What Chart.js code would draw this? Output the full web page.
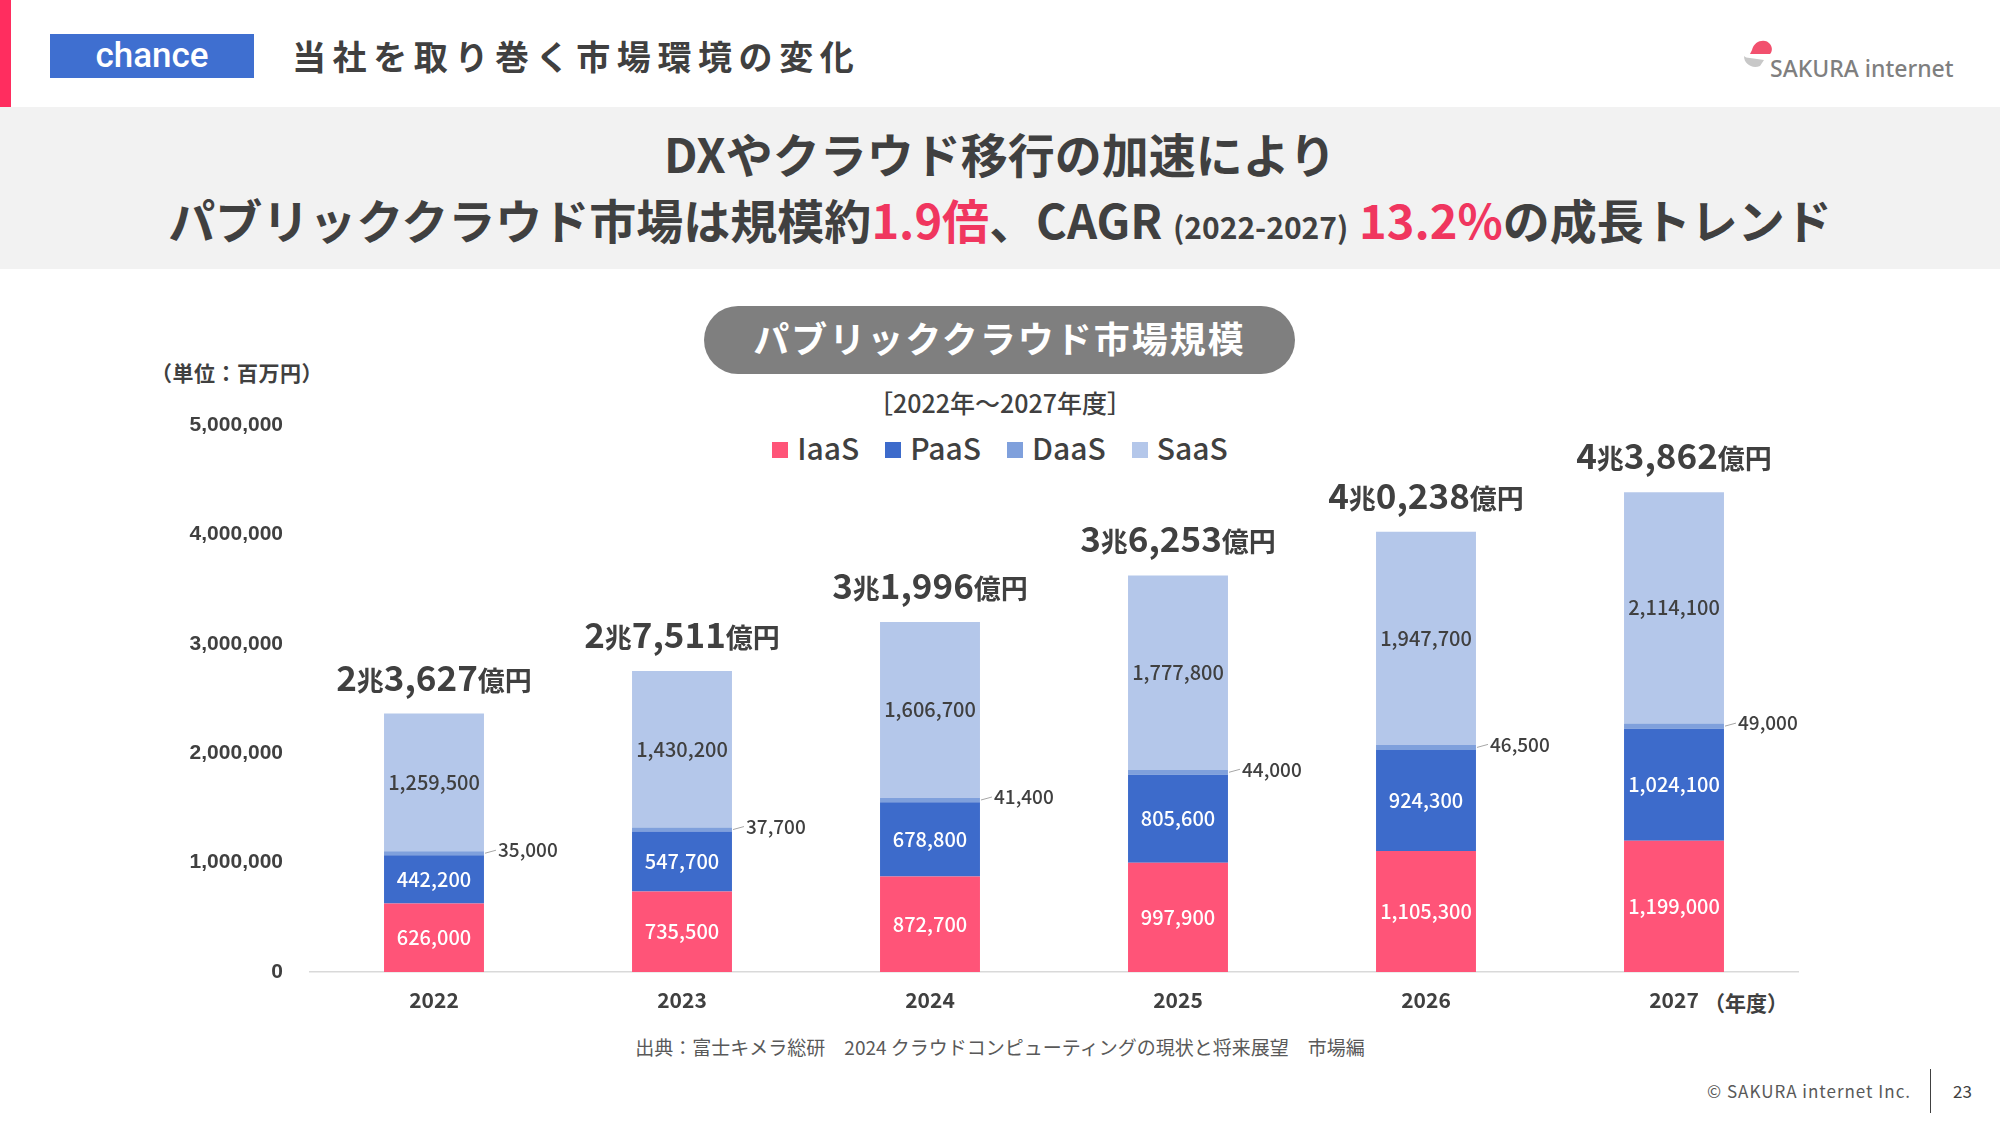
<!DOCTYPE html>
<html><head><meta charset="utf-8">
<script src="https://cdn.jsdelivr.net/npm/chart.js@4.4.0/dist/chart.umd.min.js"></script>
<style>
html,body{margin:0;padding:0;width:2000px;height:1126px;overflow:hidden;background:#fff;font-family:"Noto Sans CJK JP","Noto Sans",sans-serif;color:#404040}
.abs{position:absolute;white-space:nowrap}
#redbar{left:0;top:0;width:11px;height:107px;background:#ff2d5f}
#chance{left:50px;top:34px;width:204px;height:44px;background:#3f6fd0;color:#fff;font:500 35px Roboto,sans-serif;text-align:center;line-height:44px}
#sectitle{left:292px;top:29px;font-size:34px;font-weight:700;letter-spacing:6.6px;line-height:54px}
#band{left:0;top:107px;width:2000px;height:162px;background:#f2f2f2}
.hl{left:0;width:2000px;text-align:center;font-weight:700;font-size:47px;line-height:60px}
.red{color:#f0365f}
.small{font-size:30px}
#pill{left:704px;top:306px;width:591px;height:68px;border-radius:34px;background:#7f7f7f;color:#fff;text-align:center;line-height:62px;font-size:36px;font-weight:700;letter-spacing:2px}
#period{left:0;width:2000px;top:387px;text-align:center;font-size:25px;font-weight:500;line-height:30px}
#legend{left:0;width:2000px;top:426px;text-align:center;font-size:30px;font-weight:500;line-height:42px}
#legend span.item{display:inline-block;margin:0 13px}
#legend span.sw{display:inline-block;width:16px;height:16px;margin-right:9px;vertical-align:middle;position:relative;top:-2px}
#unit{left:151px;top:359px;font-size:21px;font-weight:700;line-height:26px;letter-spacing:0.5px}
#nendo{left:1704px;top:988px;font-size:21px;font-weight:700;line-height:28px}
#source{left:0;width:2000px;top:1035px;text-align:center;font-size:19px;color:#595959;line-height:24px}
#copy{left:1707px;top:1079px;font-size:17px;color:#595959;letter-spacing:1px;line-height:24px}
#vline{left:1930px;top:1069px;width:1px;height:44px;background:#404040}
#page{left:1953px;top:1079px;font-size:17px;color:#404040;line-height:24px}
#logotext{left:1770px;top:52px;font:500 23px "Noto Sans",sans-serif;color:#7f7f7f;line-height:32px}
#logo{left:1742px;top:36px}
canvas{position:absolute;left:0;top:0}
</style></head>
<body>
<div id="band" class="abs"></div>
<div id="redbar" class="abs"></div>
<div id="chance" class="abs">chance</div>
<div id="sectitle" class="abs">当社を取り巻く市場環境の変化</div>
<svg id="logo" class="abs" width="40" height="40" viewBox="0 0 40 40">
  <path d="M10 14 C12 4 24 2 28 8 C31 12 30 16 28 18 L8 18 Z" fill="#f2506e"/>
  <path d="M2 20 C2 28 10 33 18 30 L22 24 L8 22 C5 22 3 21 2 20 Z" fill="#c8c8c8"/>
</svg>
<div id="logotext" class="abs">SAKURA internet</div>
<div class="abs hl" style="top:123px">DXやクラウド移行の加速により</div>
<div class="abs hl" style="top:189px">パブリッククラウド市場は規模約<span class="red">1.9倍</span>、CAGR <span class="small">(2022-2027)</span> <span class="red">13.2%</span>の成長トレンド</div>
<div id="pill" class="abs">パブリッククラウド市場規模</div>
<div id="period" class="abs">［2022年～2027年度］</div>
<div id="legend" class="abs"></div>
<div id="unit" class="abs">（単位：百万円）</div>
<div id="nendo" class="abs">（年度）</div>
<div id="source" class="abs">出典：富士キメラ総研　2024 クラウドコンピューティングの現状と将来展望　市場編</div>
<div id="copy" class="abs">© SAKURA internet Inc.</div>
<div id="vline" class="abs"></div>
<div id="page" class="abs">23</div>
<canvas id="c" width="2000" height="1126"></canvas>
<script>
const categories = ['2022','2023','2024','2025','2026','2027'];
const seriesNames = ['IaaS','PaaS','DaaS','SaaS'];
const iaas = [626000, 735500, 872700, 997900, 1105300, 1199000];
const paas = [442200, 547700, 678800, 805600, 924300, 1024100];
const daas = [35000, 37700, 41400, 44000, 46500, 49000];
const saas = [1259500, 1430200, 1606700, 1777800, 1947700, 2114100];
const yTicks = [0, 1000000, 2000000, 3000000, 4000000, 5000000];
const colors = ['#ff5478', '#3d6bcb', '#7fa0dc', '#b4c7ea'];
const labelColors = ['#ffffff', '#ffffff', '#404040', '#404040'];

// HTML legend
const lg = document.getElementById('legend');
seriesNames.forEach((n,i)=>{
  const s=document.createElement('span'); s.className='item';
  s.innerHTML='<span class="sw" style="background:'+colors[i]+'"></span>'+n;
  lg.appendChild(s);
});

const fmt = v => v.toLocaleString('en-US');

const labelPlugin = {
  id: 'segLabels',
  afterDatasetsDraw(chart) {
    const ctx = chart.ctx;
    chart.data.datasets.forEach((ds, di) => {
      const meta = chart.getDatasetMeta(di);
      meta.data.forEach((bar, i) => {
        const txt = fmt(ds.data[i]);
        const cy = (bar.y + bar.base) / 2;
        ctx.save();
        ctx.font = '500 20px "Noto Sans CJK JP"';
        ctx.textBaseline = 'middle';
        if (di === 2) {
          const right = bar.x + bar.width / 2;
          ctx.strokeStyle = '#a6a6a6'; ctx.lineWidth = 1;
          ctx.beginPath(); ctx.moveTo(right + 1, cy); ctx.lineTo(right + 12, cy - 3); ctx.stroke();
          ctx.fillStyle = '#404040'; ctx.textAlign = 'left';
          ctx.font = '500 19px "Noto Sans CJK JP"';
          ctx.fillText(txt, right + 14, cy - 3);
        } else {
          ctx.fillStyle = labelColors[di]; ctx.textAlign = 'center';
          ctx.fillText(txt, bar.x, cy);
        }
        ctx.restore();
      });
    });
    // totals above bars
    const last = chart.getDatasetMeta(chart.data.datasets.length - 1);
    last.data.forEach((bar, i) => {
      const total = chart.data.datasets.reduce((s, d) => s + d.data[i], 0);
      const cho = Math.floor(total / 1000000);
      const oku = Math.round((total % 1000000) / 100);
      const okuStr = String(oku).padStart(4, '0');
      const okuFmt = okuStr.slice(0, 1) + ',' + okuStr.slice(1);
      const parts = [[String(cho), 'big'], ['兆', 'sm'], [okuFmt, 'big'], ['億円', 'sm']];
      const fonts = { big: '700 35px "Noto Sans CJK JP"', sm: '700 27px "Noto Sans CJK JP"' };
      ctx.save();
      let w = 0;
      parts.forEach(p => { ctx.font = fonts[p[1]]; w += ctx.measureText(p[0]).width; });
      let x = bar.x - w / 2;
      const yb = bar.y - 23;
      ctx.fillStyle = '#404040'; ctx.textBaseline = 'alphabetic'; ctx.textAlign = 'left';
      parts.forEach(p => { ctx.font = fonts[p[1]]; ctx.fillText(p[0], x, yb); x += ctx.measureText(p[0]).width; });
      ctx.restore();
    });
  }
};

new Chart(document.getElementById('c'), {
  type: 'bar',
  data: {
    labels: categories,
    datasets: [iaas, paas, daas, saas].map((d, i) => ({
      label: seriesNames[i], data: d, backgroundColor: colors[i], borderWidth: 0,
      categoryPercentage: 0.403, barPercentage: 1
    }))
  },
  options: {
    responsive: false, animation: false,
    layout: { padding: { left: 110, right: 202, top: 425, bottom: 94 } },
    plugins: { legend: { display: false }, tooltip: { enabled: false } },
    scales: {
      x: {
        stacked: true,
        grid: { display: false },
        border: { display: true, color: '#d9d9d9', width: 1.5 },
        ticks: { color: '#404040', font: { family: '"Noto Sans CJK JP"', size: 21, weight: '700' }, padding: 7 },
        afterFit(s) { s.height = 60; }
      },
      y: {
        stacked: true, min: 0, max: 5000000,
        afterBuildTicks(s) { s.ticks = yTicks.map(v => ({ value: v })); },
        grid: { display: false, drawTicks: false },
        border: { display: false },
        ticks: { color: '#404040', font: { family: '"Liberation Sans"', size: 21, weight: '700' }, padding: 27,
                 callback: v => fmt(v) },
        afterFit(s) { s.width = 200; }
      }
    }
  },
  plugins: [labelPlugin]
});
</script>
</body></html>
